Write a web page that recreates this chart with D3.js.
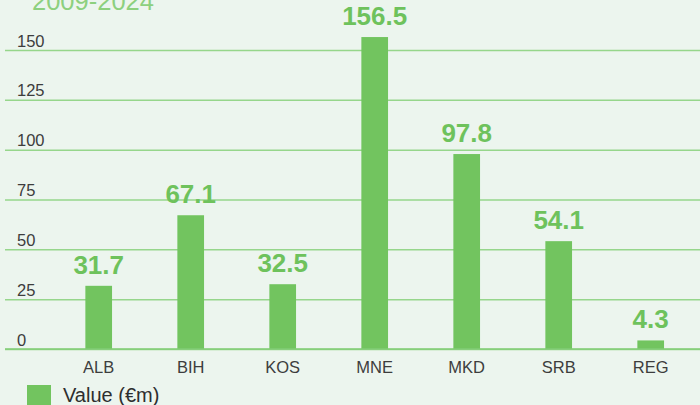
<!DOCTYPE html>
<html>
<head>
<meta charset="utf-8">
<script src="https://cdn.jsdelivr.net/npm/d3@7"></script>
<style>
  html, body { margin: 0; padding: 0; background: #ecf5ee; }
  svg { display: block; }
  text { font-family: "Liberation Sans", Arial, Helvetica, sans-serif; }
</style>
</head>
<body>
<svg id="chart" width="700" height="405"></svg>
<script>
const categories = ["ALB", "BIH", "KOS", "MNE", "MKD", "SRB", "REG"];
const values = [31.7, 67.1, 32.5, 156.5, 97.8, 54.1, 4.3];
const yTicks = [0, 25, 50, 75, 100, 125, 150];
const titleText = "2009-2024";
const legendLabel = "Value (€m)";

const W = 700, H = 405;
const svg = d3.select("#chart");

svg.append("rect").attr("width", W).attr("height", H).attr("fill", "#ecf5ee");

const y = d3.scaleLinear().domain([0, 150]).range([349, 50]);
const x = d3.scaleBand().domain(categories)
  .range([52.7, 696.7]).paddingInner(0.71).paddingOuter(0.355);

// title (partially clipped at top, as in the reference)
svg.append("text")
  .attr("x", 32).attr("y", 10)
  .attr("fill", "#8dd07e")
  .attr("font-size", 25.5)
  .text(titleText);

// gridlines + tick labels
const gAxis = svg.append("g").attr("transform", "translate(700,0)");
gAxis.call(d3.axisRight(y).tickValues(yTicks).tickSize(-695).tickFormat(d3.format("d")));
gAxis.select(".domain").remove();
gAxis.selectAll(".tick line").attr("stroke", "#96d68b").attr("stroke-width", 1.5);
gAxis.selectAll(".tick text")
  .attr("x", -683).attr("y", -4).attr("dy", 0)
  .attr("text-anchor", "start")
  .attr("font-size", 16.5)
  .attr("font-family", "Liberation Sans, Arial, sans-serif")
  .attr("fill", "#3d3d3d");

// bars
svg.append("g").selectAll("rect")
  .data(values)
  .join("rect")
  .attr("x", (d, i) => x(categories[i]))
  .attr("width", x.bandwidth())
  .attr("y", d => y(d))
  .attr("height", d => y(0) - y(d))
  .attr("fill", "#72c45f");

// baseline on top of bars
svg.append("line")
  .attr("x1", 5).attr("x2", 700).attr("y1", y(0)).attr("y2", y(0))
  .attr("stroke", "#82cc76").attr("stroke-width", 1.5);

// value labels
svg.append("g").selectAll("text")
  .data(values)
  .join("text")
  .attr("x", (d, i) => x(categories[i]) + x.bandwidth() / 2)
  .attr("y", d => y(d) - 12)
  .attr("text-anchor", "middle")
  .attr("font-size", 26)
  .attr("font-weight", "bold")
  .attr("fill", "#6ec25c")
  .text(d => d.toFixed(1));

// x axis labels
const gx = svg.append("g").attr("transform", `translate(0,${y(0)})`)
  .call(d3.axisBottom(x).tickSize(0));
gx.select(".domain").remove();
gx.selectAll(".tick text")
  .attr("y", 24).attr("dy", 0)
  .attr("font-size", 16.5)
  .attr("font-family", "Liberation Sans, Arial, sans-serif")
  .attr("fill", "#3d3d3d");

// legend
svg.append("rect").attr("x", 27).attr("y", 385).attr("width", 24).attr("height", 24).attr("fill", "#72c45f");
svg.append("text").attr("x", 63).attr("y", 402)
  .attr("font-size", 20).attr("fill", "#2e2e2e").text(legendLabel);
</script>
</body>
</html>
